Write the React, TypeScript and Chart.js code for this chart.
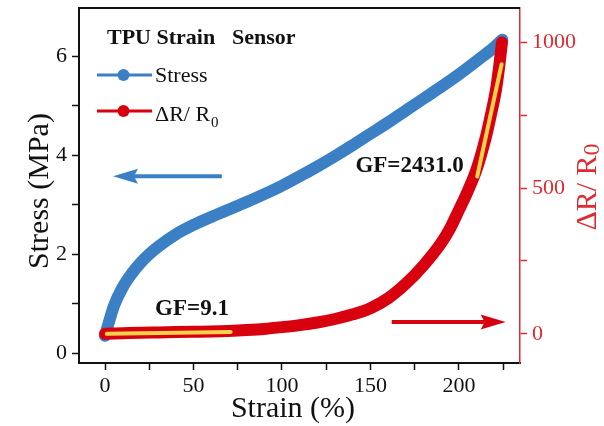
import React, { useEffect, useRef } from 'react';
import { Chart, registerables } from 'chart.js';

Chart.register(...registerables);

// ---- data ----
const stressStrain = [0, 2, 5, 10, 15, 20, 25, 30, 40, 50, 60, 70, 80, 90, 100, 110, 120, 130, 140, 150, 160, 170, 180, 190, 200, 210, 220, 224.5];
const stressValues = [0.35, 0.6, 0.95, 1.33, 1.6, 1.82, 2.0, 2.15, 2.4, 2.59, 2.75, 2.9, 3.05, 3.21, 3.38, 3.57, 3.77, 3.98, 4.2, 4.43, 4.66, 4.9, 5.14, 5.38, 5.63, 5.9, 6.18, 6.33];

const resStrain = [0, 10, 20, 30, 40, 50, 60, 70, 80, 90, 100, 110, 120, 130, 140, 150, 160, 170, 180, 190, 195, 200, 205, 210, 215, 218, 221, 223, 224.3];
const resValues = [0, 2, 4, 5, 6, 7, 8, 10, 13, 17, 23, 30, 39, 51, 67, 88, 122, 172, 235, 312, 362, 425, 490, 565, 670, 750, 840, 930, 1000];

const fitLowStrain = [1, 71];
const fitLowValues = [0, 6];
const fitHighStrain = [210.3, 224.1];
const fitHighValues = [540, 925];

const xTicks = [0, 25, 50, 75, 100, 125, 150, 175, 200, 225];
const xLabels = [0, 50, 100, 150, 200];
const yTicks = [0, 1, 2, 3, 4, 5, 6];
const yLabels = [0, 2, 4, 6];
const y1Ticks = [0, 250, 500, 750, 1000];
const y1Labels = [0, 500, 1000];

// annotation anchors in data units
const leftArrow = { x0: 66, x1: 4.5, y: 3.57 };
const rightArrow = { x0: 162, x1: 226.4, y: 41 };
const gfLow = { text: 'GF=9.1', x: 28.3, y: 0.77 };
const gfHigh = { text: 'GF=2431.0', x: 141.5, y: 3.66 };

const BLUE = '#3b80c4';
const RED = '#d8000f';
const AXRED = '#de2a30';
const YELLOW = '#f6d34a';
const SERIF = '"Liberation Serif", "Times New Roman", serif';

const zip = (xs: number[], ys: number[]) => xs.map((x, i) => ({ x, y: ys[i] }));

function arrow(ctx: CanvasRenderingContext2D, x0: number, x1: number, y: number, color: string) {
  const dir = Math.sign(x1 - x0);
  const L = 25;
  const w = 7.5;
  ctx.save();
  ctx.strokeStyle = color;
  ctx.fillStyle = color;
  ctx.lineWidth = 4;
  ctx.beginPath();
  ctx.moveTo(x0, y);
  ctx.lineTo(x1 - dir * (L - 4), y);
  ctx.stroke();
  ctx.beginPath();
  ctx.moveTo(x1, y);
  ctx.lineTo(x1 - dir * L, y - w);
  ctx.lineTo(x1 - dir * (L - 4), y);
  ctx.lineTo(x1 - dir * L, y + w);
  ctx.closePath();
  ctx.fill();
  ctx.restore();
}

const decorPlugin = {
  id: 'decor',
  afterDraw(chart: any) {
    const ctx: CanvasRenderingContext2D = chart.ctx;
    const { left, right, top } = chart.chartArea;
    const sx = chart.scales.x;
    const sy = chart.scales.y;
    const sy1 = chart.scales.y1;
    ctx.save();
    // top frame line
    ctx.strokeStyle = '#111';
    ctx.lineWidth = 2;
    ctx.beginPath();
    ctx.moveTo(left - 1, top);
    ctx.lineTo(right, top);
    ctx.stroke();

    // legend block
    ctx.fillStyle = '#111';
    ctx.textBaseline = 'alphabetic';
    ctx.textAlign = 'left';
    ctx.font = `bold 22px ${SERIF}`;
    ctx.fillText('TPU Strain', 107, 44);
    ctx.fillText('Sensor', 232, 44);

    const legendItem = (y: number, color: string) => {
      ctx.strokeStyle = color;
      ctx.fillStyle = color;
      ctx.lineWidth = 3;
      ctx.beginPath();
      ctx.moveTo(97, y);
      ctx.lineTo(152, y);
      ctx.stroke();
      ctx.beginPath();
      ctx.arc(123.5, y, 6, 0, Math.PI * 2);
      ctx.fill();
    };
    legendItem(75, BLUE);
    legendItem(111, RED);
    ctx.fillStyle = '#111';
    ctx.font = `22px ${SERIF}`;
    ctx.fillText('Stress', 155, 82);
    const main = 'ΔR/ R';
    ctx.fillText(main, 155, 121);
    const mw = ctx.measureText(main).width;
    ctx.font = `15px ${SERIF}`;
    ctx.fillText('0', 155 + mw + 1, 127);

    // GF annotations
    ctx.font = `bold 23px ${SERIF}`;
    ctx.fillStyle = '#111';
    ctx.fillText(gfLow.text, sx.getPixelForValue(gfLow.x), sy.getPixelForValue(gfLow.y));
    ctx.fillText(gfHigh.text, sx.getPixelForValue(gfHigh.x), sy.getPixelForValue(gfHigh.y));

    // arrows
    arrow(ctx, sx.getPixelForValue(leftArrow.x0), sx.getPixelForValue(leftArrow.x1), sy.getPixelForValue(leftArrow.y), BLUE);
    arrow(ctx, sx.getPixelForValue(rightArrow.x0), sx.getPixelForValue(rightArrow.x1), sy1.getPixelForValue(rightArrow.y), RED);

    // axis titles
    ctx.fillStyle = '#111';
    ctx.font = `30px ${SERIF}`;
    ctx.textAlign = 'center';
    ctx.textBaseline = 'middle';
    ctx.fillText('Strain (%)', 293, 409);

    ctx.save();
    ctx.translate(40, 191);
    ctx.rotate(-Math.PI / 2);
    ctx.fillText('Stress (MPa)', 0, 0);
    ctx.restore();

    ctx.save();
    ctx.translate(586, 187);
    ctx.rotate(-Math.PI / 2);
    ctx.fillStyle = AXRED;
    ctx.textAlign = 'left';
    ctx.textBaseline = 'alphabetic';
    ctx.font = `30px ${SERIF}`;
    const t1 = 'ΔR/ R';
    const w1 = ctx.measureText(t1).width;
    ctx.font = `24px ${SERIF}`;
    const w2 = ctx.measureText('0').width;
    const start = -(w1 + w2) / 2;
    ctx.font = `30px ${SERIF}`;
    ctx.fillText(t1, start, 10);
    ctx.font = `24px ${SERIF}`;
    ctx.fillText('0', start + w1, 13);
    ctx.restore();

    ctx.restore();
  },
};

const setTicks = (values: number[]) => (s: any) => {
  s.ticks = values.map((value) => ({ value }));
};
const zeroPad = (s: any) => {
  s.paddingTop = 0;
  s.paddingBottom = 0;
  s.paddingLeft = 0;
  s.paddingRight = 0;
};

export default function App() {
  const ref = useRef<HTMLCanvasElement | null>(null);

  useEffect(() => {
    if (!ref.current) return;
    const tickFont = { family: SERIF, size: 22 };
    const chart = new Chart(ref.current, {
      type: 'scatter',
      data: {
        datasets: [
          {
            label: 'fit low',
            data: zip(fitLowStrain, fitLowValues),
            yAxisID: 'y1',
            showLine: true,
            borderColor: YELLOW,
            borderWidth: 4,
            borderCapStyle: 'round',
            pointRadius: 0,
            order: 0,
          },
          {
            label: 'fit high',
            data: zip(fitHighStrain, fitHighValues),
            yAxisID: 'y1',
            showLine: true,
            borderColor: YELLOW,
            borderWidth: 4,
            borderCapStyle: 'round',
            pointRadius: 0,
            order: 0,
          },
          {
            label: 'ΔR/ R0',
            data: zip(resStrain, resValues),
            yAxisID: 'y1',
            showLine: true,
            borderColor: RED,
            borderWidth: 12,
            borderCapStyle: 'round',
            borderJoinStyle: 'round',
            cubicInterpolationMode: 'monotone',
            pointRadius: 0,
            order: 1,
          },
          {
            label: 'Stress',
            data: zip(stressStrain, stressValues),
            yAxisID: 'y',
            showLine: true,
            borderColor: BLUE,
            borderWidth: 12,
            borderCapStyle: 'round',
            borderJoinStyle: 'round',
            cubicInterpolationMode: 'monotone',
            pointRadius: 0,
            order: 2,
          },
        ],
      } as any,
      options: {
        animation: false,
        responsive: false,
        devicePixelRatio: 1,
        layout: { padding: { top: 8, left: 0, right: 0, bottom: 0 } },
        plugins: { legend: { display: false }, tooltip: { enabled: false } },
        scales: {
          x: {
            type: 'linear',
            min: -14.7,
            max: 234.5,
            afterBuildTicks: setTicks(xTicks),
            afterFit: (s: any) => { s.height = 63; zeroPad(s); },
            border: { display: true, color: '#111', width: 2 },
            grid: { display: true, drawOnChartArea: false, drawTicks: true, tickLength: 7, tickColor: '#111', tickWidth: 1.5 },
            ticks: {
              autoSkip: false,
              maxRotation: 0,
              color: '#111',
              font: tickFont,
              padding: 3,
              callback: (v: any) => (xLabels.includes(Number(v)) ? String(v) : ''),
            },
          },
          y: {
            type: 'linear',
            position: 'left',
            min: -0.2,
            max: 6.97,
            afterBuildTicks: setTicks(yTicks),
            afterFit: (s: any) => { s.width = 79; zeroPad(s); },
            border: { display: true, color: '#111', width: 2 },
            grid: { display: true, drawOnChartArea: false, drawTicks: true, tickLength: 7, tickColor: '#111', tickWidth: 1.5 },
            ticks: {
              autoSkip: false,
              color: '#111',
              font: tickFont,
              padding: 5,
              callback: (v: any) => (yLabels.includes(Number(v)) ? String(v) : ''),
            },
          },
          y1: {
            type: 'linear',
            position: 'right',
            min: -100,
            max: 1118,
            afterBuildTicks: setTicks(y1Ticks),
            afterFit: (s: any) => { s.width = 84; zeroPad(s); },
            border: { display: true, color: AXRED, width: 1.5 },
            grid: { display: true, drawOnChartArea: false, drawTicks: true, tickLength: 7, tickColor: AXRED, tickWidth: 1.5 },
            ticks: {
              autoSkip: false,
              color: AXRED,
              font: tickFont,
              padding: 5,
              callback: (v: any) => (y1Labels.includes(Number(v)) ? String(v) : ''),
            },
          },
        },
      } as any,
      plugins: [decorPlugin],
    });
    return () => chart.destroy();
  }, []);

  return (
    <div style={{ position: 'fixed', left: 0, top: 0, width: 604, height: 426, background: '#fff' }}>
      <canvas ref={ref} width={604} height={426} style={{ width: 604, height: 426, display: 'block' }} />
    </div>
  );
}
